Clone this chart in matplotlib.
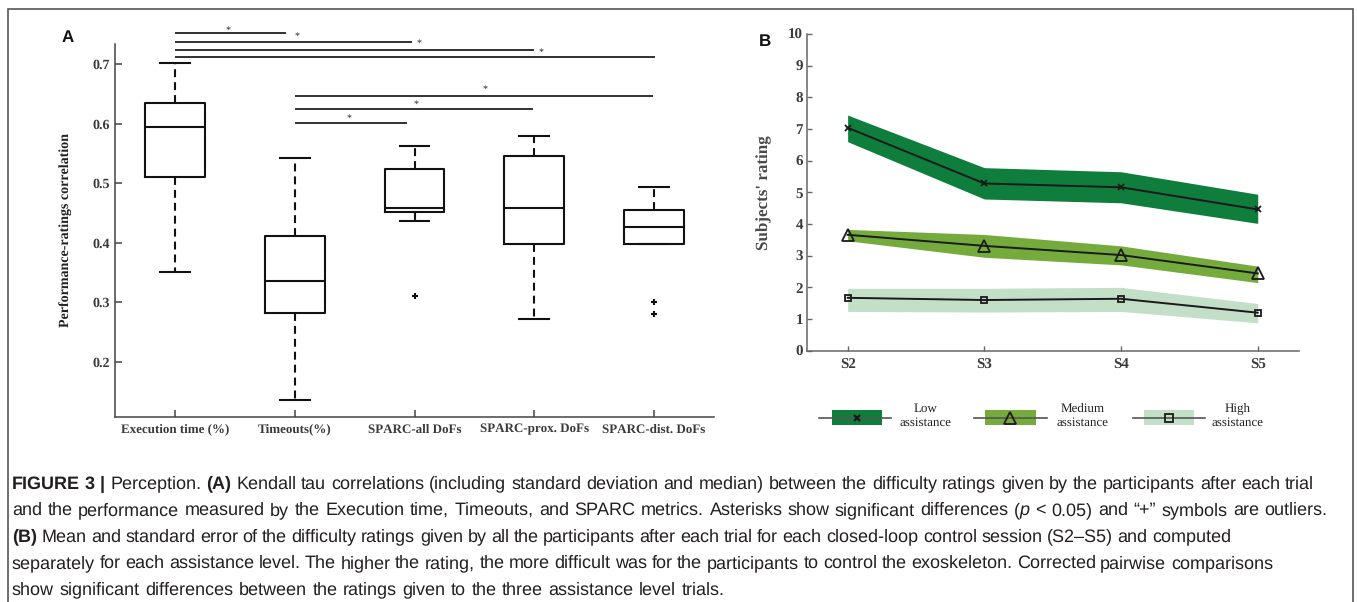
import matplotlib
matplotlib.use("Agg")
import matplotlib.pyplot as plt
from matplotlib import font_manager as fm
from matplotlib.patches import Rectangle
from matplotlib.lines import Line2D

plt.rcParams["text.hinting"] = "no_hinting"
plt.rcParams["text.hinting_factor"] = 1

W, H = 1358, 602

# ---------------- Panel A data ----------------
categories_a = ["Execution time (%)", "Timeouts(%)", "SPARC-all DoFs",
                "SPARC-prox. DoFs", "SPARC-dist. DoFs"]
medians = [0.595, 0.336, 0.458, 0.458, 0.426]
q1 = [0.510, 0.282, 0.451, 0.398, 0.398]
q3 = [0.635, 0.412, 0.524, 0.545, 0.455]
whisker_low = [0.350, 0.136, 0.436, 0.271, 0.398]
whisker_high = [0.703, 0.542, 0.562, 0.579, 0.494]
outliers = [[], [], [0.311], [], [0.300, 0.281]]
yticks_a = [0.2, 0.3, 0.4, 0.5, 0.6, 0.7]

# significance bars (category positions, y value)
sig_start = [1.0, 1.0, 1.0, 1.0, 2.0, 2.0, 2.0]
sig_end = [1.93, 2.98, 4.0, 5.01, 2.94, 3.99, 4.99]
sig_y = [0.752, 0.738, 0.724, 0.712, 0.601, 0.624, 0.647]
star_x = [1.44, 2.02, 3.04, 4.06, 2.45, 3.01, 3.59]
star_y = [0.7605, 0.7504, 0.7386, 0.7235, 0.612, 0.636, 0.661]

# ---------------- Panel B data ----------------
sessions = ["S2", "S3", "S4", "S5"]
low_mean = [7.04, 5.28, 5.16, 4.46]
low_upper = [7.44, 5.78, 5.65, 4.94]
low_lower = [6.60, 4.79, 4.67, 4.02]
med_mean = [3.66, 3.31, 3.02, 2.44]
med_upper = [3.83, 3.67, 3.31, 2.67]
med_lower = [3.47, 2.95, 2.71, 2.15]
high_mean = [1.67, 1.60, 1.64, 1.20]
high_upper = [1.97, 1.97, 2.00, 1.49]
high_lower = [1.24, 1.22, 1.24, 0.88]
yticks_b = list(range(0, 11))
legend_labels = ["Low\nassistance", "Medium\nassistance", "High\nassistance"]

c_low, c_med, c_high = "#0f7d3c", "#75ab3c", "#c3dfc8"
tick_col = "#3a3a3a"
serif = ["Liberation Serif", "DejaVu Serif"]

fig = plt.figure(figsize=(W / 100, H / 100), dpi=100)


def fx(x):
    return x / W


def fy(y):
    return 1 - y / H


# ---------------- Panel A ----------------
axA = fig.add_axes([fx(115), fy(416.7), (714 - 115) / W, (416.7 - 44.3) / H])
stats = []
for i in range(len(categories_a)):
    stats.append(dict(med=medians[i], q1=q1[i], q3=q3[i], whislo=whisker_low[i],
                      whishi=whisker_high[i], fliers=outliers[i]))
positions = list(range(1, len(categories_a) + 1))
axA.bxp(stats, positions=positions, widths=0.5, showfliers=True,
        boxprops=dict(color="#111111", linewidth=1.5),
        whiskerprops=dict(color="#111111", linewidth=1.5, linestyle=(0, (3.8, 2.4))),
        capprops=dict(color="#111111", linewidth=1.5),
        medianprops=dict(color="#111111", linewidth=1.5),
        flierprops=dict(marker="+", markeredgecolor="#111111", markersize=5, markeredgewidth=1.5))
axA.set_xlim(0.5, 5.5)
axA.set_ylim(0.1075, 0.7336)
axA.set_yticks(yticks_a)
axA.set_yticklabels([f"{v:.1f}" for v in yticks_a], fontfamily=serif, fontweight="bold",
                    fontsize=9.8, color=tick_col)
axA.set_xticks(positions)
axA.set_xticklabels(categories_a, fontfamily=serif, fontweight="bold", fontsize=9.6,
                    color=tick_col)
for s in ["top", "right"]:
    axA.spines[s].set_visible(False)
for s in ["left", "bottom"]:
    axA.spines[s].set_color("#444444")
    axA.spines[s].set_linewidth(1.1)
axA.tick_params(axis="both", direction="in", length=5, width=1.1, color="#444444")
axA.tick_params(axis="y", pad=3.5)
axA.tick_params(axis="x", pad=5)
axA.set_ylabel("Performance-ratings correlation", fontfamily=serif, fontweight="bold",
               fontsize=10.3, color="#222222")
axA.yaxis.set_label_coords(-0.0718, 0.5)

for s0, s1, yy in zip(sig_start, sig_end, sig_y):
    axA.plot([s0, s1], [yy, yy], color="#222222", linewidth=1.3, clip_on=False,
             solid_capstyle="butt")
for sx, sy in zip(star_x, star_y):
    axA.annotate("*", (sx, sy), xytext=(0, -3.4), textcoords="offset points",
                 ha="center", va="baseline", fontsize=7.5, fontfamily=serif,
                 color="#222222", annotation_clip=False)

# ---------------- Panel B ----------------
axB = fig.add_axes([fx(807.3), fy(350.7), (1299.3 - 807.3) / W, (350.7 - 34) / H])
xb = list(range(2, 2 + len(sessions)))
axB.fill_between(xb, low_lower, low_upper, color=c_low, linewidth=0)
axB.fill_between(xb, med_lower, med_upper, color=c_med, linewidth=0)
axB.fill_between(xb, high_lower, high_upper, color=c_high, linewidth=0)
axB.plot(xb, low_mean, color="#1a1a1a", linewidth=1.4, marker="x", markersize=5,
         markeredgewidth=1.3)
axB.plot(xb, med_mean, color="#1a1a1a", linewidth=1.4, marker="^", markersize=8,
         markerfacecolor="none", markeredgewidth=1.3)
axB.plot(xb, high_mean, color="#1a1a1a", linewidth=1.4, marker="s", markersize=5,
         markerfacecolor="none", markeredgewidth=1.3)
axB.set_xlim(1.705, 5.304)
axB.set_ylim(0, 10)
axB.set_yticks(yticks_b)
axB.set_yticklabels([str(v) for v in yticks_b], fontfamily=serif, fontweight="bold",
                    fontsize=10.5, color=tick_col)
axB.set_xticks(xb)
axB.set_xticklabels(sessions, fontfamily=serif, fontweight="bold", fontsize=10.5,
                    color=tick_col)
for s in ["top", "right"]:
    axB.spines[s].set_visible(False)
for s in ["left", "bottom"]:
    axB.spines[s].set_color("#666666")
    axB.spines[s].set_linewidth(1.1)
axB.tick_params(axis="both", direction="in", length=3.5, width=1.0, color="#666666")
axB.tick_params(axis="y", pad=3)
axB.tick_params(axis="x", pad=5.5)
axB.set_ylabel("Subjects' rating", fontfamily=serif, fontweight="bold", fontsize=12.3,
               color="#4a4a4a")
axB.yaxis.set_label_coords(-0.0717, 0.5)

# legend for panel B (drawn in figure pixels)
leg_items = [
    (c_low, dict(marker="x", markersize=5, markeredgewidth=1.6), 819, 891, 831.7, 881.7, 926),
    (c_med, dict(marker="^", markersize=8, markerfacecolor="none", markeredgewidth=1.3),
     974, 1047, 985, 1035.7, 1083),
    (c_high, dict(marker="s", markersize=6, markerfacecolor="none", markeredgewidth=1.3),
     1133, 1205, 1144, 1194, 1238),
]
ly0, ly1 = 410, 425.3
for (col, mk, l0, l1, p0, p1, tx), lab in zip(leg_items, legend_labels):
    fig.add_artist(Rectangle((fx(p0), fy(ly1)), (p1 - p0) / W, (ly1 - ly0) / H,
                             transform=fig.transFigure, facecolor=col, edgecolor="none"))
    ym = fy((ly0 + ly1) / 2)
    fig.add_artist(Line2D([fx(l0), fx(l1)], [ym, ym], transform=fig.transFigure,
                          color="#555555", linewidth=1.2))
    fig.add_artist(Line2D([fx((p0 + p1) / 2)], [ym], transform=fig.transFigure,
                          color="#1a1a1a", linestyle="none", **mk))
    fig.text(fx(tx), fy(415.5), lab, ha="center", va="center", multialignment="center",
             fontfamily=serif, fontsize=9.7, color="#222222", linespacing=1.3)

# panel letters
fig.text(fx(68), fy(38), "A", ha="center", va="center", fontsize=12.5, fontweight="bold",
         fontfamily=["Liberation Sans", "DejaVu Sans"], color="#111111")
fig.text(fx(765), fy(42), "B", ha="center", va="center", fontsize=12.5, fontweight="bold",
         fontfamily=["Liberation Sans", "DejaVu Sans"], color="#111111")

# outer frame (bottom edge lies beyond the picture)
fig.add_artist(Rectangle((fx(8), fy(606)), (1353 - 8) / W, (606 - 9) / H,
                         transform=fig.transFigure, facecolor="none",
                         edgecolor="#555555", linewidth=1.2))

# ---------------- Caption ----------------
names = {f.name for f in fm.fontManager.ttflist}
cap_family = "Liberation Sans Narrow" if "Liberation Sans Narrow" in names else "Liberation Sans"
if cap_family not in names:
    cap_family = "DejaVu Sans"

caption_lines = [
    [("FIGURE 3 | ", "bold", "normal"), ("Perception. ", "normal", "normal"),
     ("(A)", "bold", "normal"),
     (" Kendall tau correlations (including standard deviation and median) between the "
      "difficulty ratings given by the participants after each trial", "normal", "normal")],
    [("and the performance measured by the Execution time, Timeouts, and SPARC metrics. "
      "Asterisks show significant differences (", "normal", "normal"),
     ("p", "normal", "italic"),
     (" < 0.05) and \u201c+\u201d symbols are outliers.", "normal", "normal")],
    [("(B)", "bold", "normal"),
     (" Mean and standard error of the difficulty ratings given by all the participants after "
      "each trial for each closed-loop control session (S2\u2013S5) and computed", "normal", "normal")],
    [("separately for each assistance level. The higher the rating, the more difficult was for "
      "the participants to control the exoskeleton. Corrected pairwise comparisons",
      "normal", "normal")],
    [("show significant differences between the ratings given to the three assistance level "
      "trials.", "normal", "normal")],
]
cap_centers = [482, 508.5, 535, 561.5, 588]
# approximate line widths in the reference (None = natural spacing)
cap_targets = [None, 1335, 1145, 1261, 722]

renderer = fig.canvas.get_renderer()


def text_w(s, size, weight, style):
    t = fig.text(0, 0, s, fontsize=size, fontweight=weight, fontstyle=style,
                 fontfamily=cap_family)
    w = t.get_window_extent(renderer).width
    t.remove()
    return w


def seg_w(s, size, weight, style):
    return text_w("x" + s + "x", size, weight, style) - text_w("xx", size, weight, style)


def line_w(segs, size):
    return sum(seg_w(s, size, wt, st) for s, wt, st in segs)


size = 12.0
for _ in range(2):
    tot = sum(line_w(l, size) for l, t in zip(caption_lines, cap_targets) if t)
    size = size * (sum(t for t in cap_targets if t) / tot)

for segs, yc, tgt in zip(caption_lines, cap_centers, cap_targets):
    nat = line_w(segs, size)
    nsp = sum(s.count(" ") for s, _, _ in segs)
    adj = 0.0
    if tgt:
        adj = max(-0.5, min(0.5, (tgt - nat) / max(nsp, 1)))
    x = 12.0
    for s, wt, st in segs:
        lead = len(s) - len(s.lstrip(" "))
        trail = len(s) - len(s.rstrip(" "))
        core = s.strip(" ")
        sp = seg_w(" ", size, wt, st)
        x += lead * (sp + adj)
        words = core.split(" ")
        for k, wd in enumerate(words):
            prefix = " ".join(words[:k]) + (" " if k > 0 else "")
            xpos = x + (seg_w(prefix, size, wt, st) if k > 0 else 0.0) + k * adj
            fig.text(fx(xpos), fy(yc), wd, ha="left", va="center_baseline", fontsize=size,
                     fontweight=wt, fontstyle=st, fontfamily=cap_family, color="#231f20")
        x += seg_w(core, size, wt, st) + (len(words) - 1) * adj + trail * (sp + adj)

fig.savefig("out.png", dpi=100)
